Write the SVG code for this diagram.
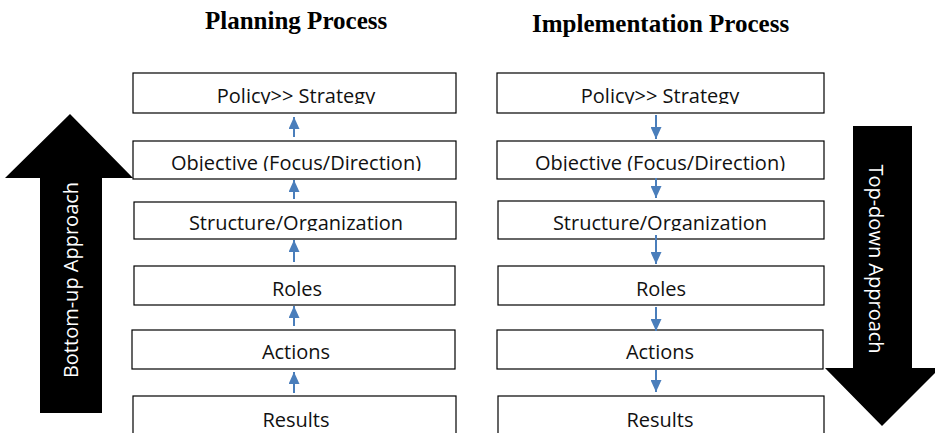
<svg xmlns="http://www.w3.org/2000/svg" width="935" height="433" viewBox="0 0 935 433">
<style>
.box{fill:#fff;stroke:#000;stroke-width:1.2}
.lbl{font-family:"Open Sans","Noto Sans",sans-serif;font-size:20px;fill:#111;text-anchor:middle}
.title{font-family:"Liberation Serif","Times New Roman",serif;font-weight:bold;font-size:25px;fill:#000}
.side{font-family:"Open Sans","Noto Sans",sans-serif;font-size:20px;fill:#fff;text-anchor:middle}
.conn line{stroke:#4A7EBB;stroke-width:2}
.big{fill:#000}
</style>
<defs>
<marker id="ah" viewBox="0 0 12 11" refX="12" refY="5.5" markerWidth="12" markerHeight="11" markerUnits="userSpaceOnUse" orient="auto">
<path d="M0,0 L12,5.5 L0,11 Z" fill="#4A7EBB"/>
</marker>
<clipPath id="c1"><rect x="0" y="0" width="935" height="104"/></clipPath>
<clipPath id="c2"><rect x="0" y="0" width="935" height="171"/></clipPath>
<clipPath id="c3"><rect x="0" y="0" width="935" height="231"/></clipPath>
</defs>
<text class="title" x="205" y="29">Planning Process</text>
<text class="title" x="532" y="32">Implementation Process</text>
<g id="bottom-up-arrow">
<polygon class="big" points="70,114 133,178 102,178 102,413 40,413 40,178 5,178"/>
<text class="side" transform="translate(78,280) rotate(-90)">Bottom-up Approach</text>
</g>
<g id="top-down-arrow">
<polygon class="big" points="853,126 912,126 912,368 940,368 882,426 825,368 853,368"/>
<text class="side" transform="translate(869,259) rotate(90)">Top-down Approach</text>
</g>
<g id="p-policy"><rect class="box" x="133" y="73" width="323" height="40"/><text class="lbl" x="296" y="103" clip-path="url(#c1)">Policy&gt;&gt; Strategy</text></g>
<g id="p-objective"><rect class="box" x="133" y="141" width="323" height="38"/><text class="lbl" x="296" y="170" clip-path="url(#c2)">Objective (Focus/Direction)</text></g>
<g id="p-structure"><rect class="box" x="134" y="202" width="322" height="37"/><text class="lbl" x="296" y="230" clip-path="url(#c3)">Structure/Organization</text></g>
<g id="p-roles"><rect class="box" x="134" y="266" width="321" height="39"/><text class="lbl" x="297" y="296">Roles</text></g>
<g id="p-actions"><rect class="box" x="132" y="330" width="323" height="39"/><text class="lbl" x="296" y="359">Actions</text></g>
<g id="p-results"><rect class="box" x="133" y="396" width="323" height="45"/><text class="lbl" x="296" y="427">Results</text></g>
<g id="i-policy"><rect class="box" x="497" y="73" width="327" height="40"/><text class="lbl" x="660" y="103" clip-path="url(#c1)">Policy&gt;&gt; Strategy</text></g>
<g id="i-objective"><rect class="box" x="497" y="141" width="327" height="38"/><text class="lbl" x="660" y="170" clip-path="url(#c2)">Objective (Focus/Direction)</text></g>
<g id="i-structure"><rect class="box" x="498" y="201" width="326" height="38"/><text class="lbl" x="660" y="230" clip-path="url(#c3)">Structure/Organization</text></g>
<g id="i-roles"><rect class="box" x="498" y="266" width="326" height="39"/><text class="lbl" x="661" y="296">Roles</text></g>
<g id="i-actions"><rect class="box" x="497" y="330" width="326" height="39"/><text class="lbl" x="660" y="359">Actions</text></g>
<g id="i-results"><rect class="box" x="498" y="396" width="326" height="45"/><text class="lbl" x="660" y="427">Results</text></g>
<g id="connectors" class="conn">
<line x1="294" y1="137" x2="294" y2="117" marker-end="url(#ah)"/>
<line x1="294" y1="199" x2="294" y2="180" marker-end="url(#ah)"/>
<line x1="294" y1="262" x2="294" y2="240" marker-end="url(#ah)"/>
<line x1="294" y1="326" x2="294" y2="306" marker-end="url(#ah)"/>
<line x1="294" y1="393" x2="294" y2="372" marker-end="url(#ah)"/>
<line x1="656" y1="115" x2="656" y2="139" marker-end="url(#ah)"/>
<line x1="656" y1="178" x2="656" y2="198" marker-end="url(#ah)"/>
<line x1="656" y1="235" x2="656" y2="264" marker-end="url(#ah)"/>
<line x1="656" y1="307" x2="656" y2="331" marker-end="url(#ah)"/>
<line x1="656" y1="370" x2="656" y2="392" marker-end="url(#ah)"/>
</g>
</svg>
